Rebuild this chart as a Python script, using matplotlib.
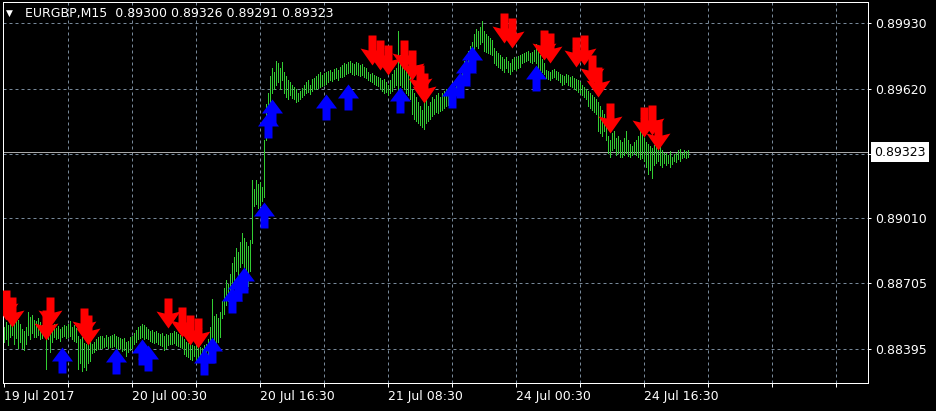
import numpy as np
import matplotlib
matplotlib.use('Agg')
import matplotlib.pyplot as plt
from matplotlib.path import Path

# header and axis texts
symbol = "EURGBP,M15"
last_ohlc = ["0.89300", "0.89326", "0.89291", "0.89323"]
last_price = 0.89323
price_ticks = [0.89930, 0.89620, 0.89315, 0.89010, 0.88705, 0.88395]
time_labels = ["19 Jul 2017", "20 Jul 00:30", "20 Jul 16:30",
               "21 Jul 08:30", "24 Jul 00:30", "24 Jul 16:30"]
time_label_bars = [0, 64, 128, 192, 256, 320]

# M15 bars, high / low in points above 0.88000
bar_high = [
    500, 520, 510, 530, 540, 525, 545, 530, 515,
    490, 480, 500,
    570, 545, 555, 530,
    525, 540, 520, 510, 530,
    510, 520, 505, 500, 515,
    495, 505, 490, 500, 510,
    505, 515, 525, 500, 510, 495,
    455, 440, 450, 425, 420, 415, 430,
    420, 430, 440, 450, 455,
    455, 445, 460, 450, 455,
    460, 465, 455, 450, 445,
    440, 445, 430, 435, 450, 455,
    470, 485, 500, 505, 515, 510, 500,
    490, 480, 485, 475, 480, 470, 465,
    470, 455, 465, 460, 470,
    470, 480, 475, 465, 460, 455,
    440, 430, 425, 420, 415, 410,
    420, 410, 405, 400, 415, 420,
    440, 500, 630, 550,
    560, 540, 570,
    620, 680, 720, 700, 750,
    800, 830, 870, 850, 900, 940,
    920, 900, 880, 910, 1190,
    1150, 1190, 1170, 1180, 1160,
    1380,
    1550,
    1600, 1680, 1720, 1700,
    1750, 1740, 1720, 1745,
    1700, 1680, 1660, 1650, 1640,
    1630, 1620, 1600, 1610, 1625, 1640,
    1650, 1660, 1640, 1665, 1670,
    1680, 1690, 1700, 1685, 1695, 1700,
    1705, 1710, 1700, 1715, 1720, 1710, 1725,
    1730, 1740, 1735, 1745, 1750, 1740, 1735,
    1745, 1740, 1730, 1735, 1725, 1720,
    1700, 1690, 1695, 1685, 1680, 1675,
    1670, 1660, 1665, 1650, 1640,
    1660, 1690, 1710, 1720, 1890,
    1780, 1760, 1740, 1720, 1700, 1680,
    1620, 1600, 1580, 1560, 1540, 1520,
    1560, 1580, 1540,
    1560, 1580, 1570, 1590, 1600, 1580, 1600, 1610, 1620, 1600,
    1620, 1640, 1650, 1660, 1680, 1700, 1720,
    1750, 1780, 1800, 1820, 1840,
    1880, 1900, 1890, 1910, 1940,
    1890, 1880, 1870, 1860, 1850,
    1810, 1800, 1790, 1780, 1770, 1760, 1770,
    1750, 1740, 1760, 1770, 1765, 1775, 1780,
    1785, 1790, 1795, 1800, 1790, 1795, 1805,
    1830, 1800, 1780, 1760, 1740,
    1710, 1705, 1700, 1710, 1715, 1705, 1700,
    1690, 1685, 1680, 1690, 1685, 1675, 1680,
    1670, 1665, 1660, 1650, 1640, 1630, 1620,
    1610, 1600, 1590, 1580, 1570,
    1560, 1540, 1520, 1500, 1480,
    1400, 1380, 1410, 1420, 1390, 1400, 1380,
    1370, 1390, 1420, 1380, 1360, 1350, 1370,
    1380, 1400, 1420, 1410, 1390,
    1370, 1360, 1350, 1340, 1355,
    1360, 1340, 1350, 1330, 1320,
    1320, 1310, 1325, 1300, 1315, 1320,
    1330, 1335, 1320, 1330, 1325, 1330,
]
bar_low = [
    430, 440, 415, 450, 460, 420, 445, 400, 430,
    400, 390, 420,
    460, 440, 470, 450,
    450, 460, 440, 445, 455,
    300, 440, 380, 430, 450,
    440, 445, 435, 450, 455,
    445, 450, 455, 440, 435, 430,
    300, 330, 290, 310, 295, 330, 340,
    375, 380, 390, 395, 400,
    400, 405, 410, 400, 405,
    405, 410, 400, 395, 400,
    385, 390, 360, 380, 390, 400,
    420, 430, 440, 445, 450, 440, 445,
    440, 435, 430, 425, 430, 420, 415,
    410, 390, 400, 415, 420,
    420, 425, 415, 410, 405, 400,
    370, 360, 355, 350, 345, 360,
    340, 345, 335, 330, 350, 360,
    350, 380, 440, 400,
    420, 430, 450,
    540, 560, 600, 620, 640,
    700, 720, 760, 740, 780, 800,
    700, 720, 690, 760, 895,
    1070, 1080, 1060, 1075, 1090,
    1110,
    1380,
    1500, 1560, 1600, 1620,
    1640, 1650, 1620, 1660,
    1600, 1580, 1570, 1590, 1575,
    1570, 1560, 1565, 1570, 1580, 1590,
    1600, 1605, 1595, 1610, 1620,
    1620, 1625, 1630, 1635, 1640, 1645,
    1650, 1660, 1655, 1665, 1670, 1660, 1675,
    1675, 1680, 1690, 1695, 1700, 1690, 1685,
    1690, 1685, 1680, 1685, 1675, 1670,
    1660, 1655, 1650, 1645, 1640, 1635,
    1620, 1610, 1600, 1605, 1590,
    1600, 1610, 1630, 1640, 1610,
    1640, 1630, 1620, 1600, 1590, 1570,
    1500, 1480, 1470, 1460, 1450, 1440,
    1430, 1460, 1470,
    1480, 1490, 1500, 1510, 1505, 1515, 1520, 1530, 1540, 1545,
    1560, 1570, 1580, 1590, 1600, 1620, 1640,
    1670, 1690, 1710, 1730, 1750,
    1800, 1820, 1810, 1830, 1840,
    1800, 1795, 1790, 1785, 1780,
    1740, 1730, 1725, 1720, 1710, 1700, 1720,
    1700, 1690, 1705, 1715, 1710, 1720, 1725,
    1740, 1745, 1750, 1755, 1745, 1740, 1750,
    1740, 1720, 1710, 1700, 1690,
    1670, 1665, 1660, 1670, 1675, 1665, 1660,
    1650, 1640, 1645, 1650, 1640, 1635, 1630,
    1620, 1615, 1605, 1600, 1590, 1580, 1570,
    1540, 1530, 1520, 1510, 1500,
    1420, 1410, 1400, 1420, 1380,
    1320, 1300, 1330, 1340, 1310, 1320, 1300,
    1300, 1310, 1320, 1305, 1300, 1310, 1320,
    1310, 1300, 1290, 1295, 1280,
    1250, 1220, 1240, 1200, 1260,
    1270, 1280, 1260, 1250, 1270,
    1260, 1270, 1250, 1265, 1280, 1275,
    1290, 1280, 1295, 1300, 1295, 1300,
]

# signal arrows: bar index and arrow centre (points above 0.88000)
sell_bar = [1, 4, 21, 23, 40, 42, 82, 89, 93, 97,
            184, 188, 192, 200, 204, 208, 210,
            250, 254, 270, 273, 286, 290, 294, 297, 303, 320, 324, 327]
sell_pts = [602, 569, 508, 569, 517, 484, 564, 522, 484, 470,
            1803, 1779, 1756, 1779, 1732, 1661, 1624,
            1906, 1883, 1826, 1812, 1793, 1803, 1708, 1652, 1482, 1464, 1473, 1402]
buy_bar = [29, 56, 69, 72, 100, 104, 114, 117, 120, 130, 132, 134,
           161, 172, 198, 224, 228, 231, 234, 266]
buy_pts = [343, 338, 381, 353, 334, 390, 626, 682, 720, 1026, 1449, 1511,
           1534, 1581, 1567, 1590, 1640, 1700, 1760, 1671]

highs = 0.88 + np.array(bar_high) / 1e5
lows = 0.88 + np.array(bar_low) / 1e5
idx = np.arange(len(highs))
sell_price = 0.88 + np.array(sell_pts) / 1e5
buy_price = 0.88 + np.array(buy_pts) / 1e5

# thick arrow shapes like the terminal's wingdings arrows
up_verts = [(0, 13), (10.5, -1), (4, -1), (4, -13), (-4, -13),
            (-4, -1), (-10.5, -1), (0, 13)]
up_arrow = Path(up_verts, closed=True)
down_verts = [(0, -15), (12, 2), (4, 0), (4, 15), (-4, 15),
              (-4, 0), (-12, 2), (0, -15)]
down_arrow = Path(down_verts, closed=True)

W, H = 936, 411
px = 0.72  # one pixel in points at dpi 100
fig = plt.figure(figsize=(W / 100, H / 100), dpi=100, facecolor='black')
ax = fig.add_axes([3 / W, 28 / H, 865 / W, 381 / H], facecolor='black')
ax.set_xlim(-0.5, 432)
ax.set_ylim(0.882349, 0.900289)

grid_color = '#778899'
for p in price_ticks:
    ax.axhline(p, color=grid_color, lw=px, ls=(0, (3, 3)), zorder=1)
for b in range(32, 432, 32):
    ax.axvline(b, color=grid_color, lw=px, ls=(0, (3, 3)), zorder=1)
ax.axhline(last_price, color='#a9a9a9', lw=px, zorder=1.5)

ax.vlines(idx, lows, highs, colors='#32cd32', lw=px, antialiased=False, zorder=2)

ax.plot(sell_bar, sell_price, ls='none', marker=down_arrow, ms=21.6,
        color='#ff0000', mew=0, zorder=3)
ax.plot(buy_bar, buy_price, ls='none', marker=up_arrow, ms=18.7,
        color='#0000ff', mew=0, zorder=3)

for s in ax.spines.values():
    s.set_color('white')
    s.set_linewidth(px)

# price scale on the right
ax.yaxis.tick_right()
ax.set_yticks(price_ticks)
ax.set_yticklabels(['' if abs(p - 0.89315) < 1e-7 else f'{p:.5f}' for p in price_ticks])
ax.tick_params(axis='y', colors='white', labelcolor='white', length=2.2, width=px,
               pad=3, labelsize=9)
for t in ax.yaxis.get_major_ticks():
    t.tick2line.set_color(grid_color)

# time scale
xt = list(range(0, 432, 32))
ax.set_xticks(xt)
ax.set_xticklabels([time_labels[time_label_bars.index(b)] if b in time_label_bars else ''
                    for b in xt])
ax.tick_params(axis='x', colors='white', length=3, width=px, pad=2, labelsize=9)
for lbl in ax.get_xticklabels():
    lbl.set_horizontalalignment('left')

# current price label
fig.text(874 / W, 1 - 152 / H, f'{last_price:.5f}', color='black', fontsize=9,
         va='center', ha='left',
         bbox=dict(boxstyle='square,pad=0.28', fc='white', ec='none'))

# header
fig.text(6 / W, 1 - 13 / H, '\u25bc', color='white', fontsize=6.5, va='center')
fig.text(25 / W, 1 - 13 / H, symbol + '  ' + ' '.join(last_ohlc), color='white',
         fontsize=9, va='center')

fig.savefig('out.png', dpi=100, facecolor='black')
